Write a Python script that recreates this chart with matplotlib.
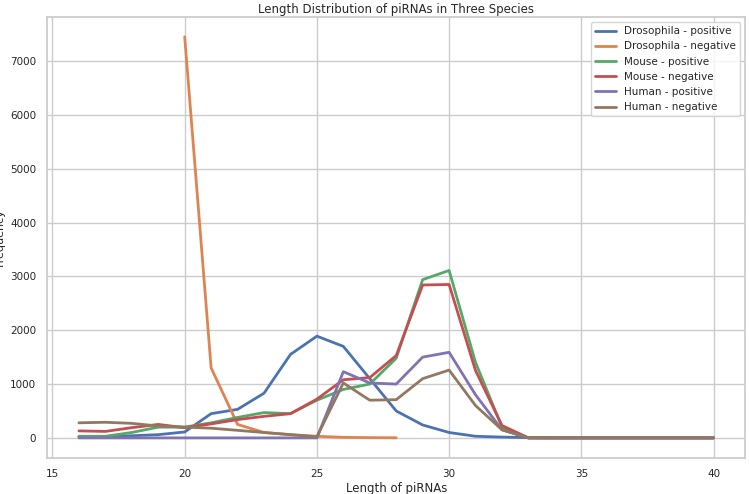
import matplotlib
matplotlib.use("Agg")
import matplotlib.pyplot as plt
import seaborn as sns

sns.set_theme(style="whitegrid")

lengths = list(range(16, 41))
tail = [0] * 7  # 34..40
dro_pos = [20, 20, 40, 60, 110, 450, 530, 830, 1550, 1890, 1700, 1100, 500, 240, 100, 30, 15, 5] + tail
dro_neg_x = list(range(20, 29))
dro_neg = [7450, 1300, 250, 100, 60, 30, 10, 5, 2]
mouse_pos = [30, 30, 100, 200, 200, 280, 380, 470, 450, 700, 900, 1000, 1480, 2940, 3110, 1400, 200, 0] + tail
mouse_neg = [130, 120, 190, 250, 190, 260, 340, 400, 450, 720, 1080, 1120, 1530, 2840, 2850, 1250, 230, 0] + tail
human_pos = [0, 0, 0, 0, 0, 0, 0, 0, 0, 0, 1230, 1020, 1000, 1500, 1590, 800, 150, 0] + tail
human_neg = [280, 290, 270, 220, 200, 180, 140, 100, 60, 20, 1020, 700, 710, 1100, 1260, 600, 150, 0] + tail

fig, ax = plt.subplots(figsize=(7.49, 4.94), dpi=100)
ax.plot(lengths, dro_pos, lw=2, label="Drosophila - positive")
ax.plot(dro_neg_x, dro_neg, lw=2, label="Drosophila - negative")
ax.plot(lengths, mouse_pos, lw=2, label="Mouse - positive")
ax.plot(lengths, mouse_neg, lw=2, label="Mouse - negative")
ax.plot(lengths, human_pos, lw=2, label="Human - positive")
ax.plot(lengths, human_neg, lw=2, label="Human - negative")
ax.set_title("Length Distribution of piRNAs in Three Species", fontsize=8.5, pad=3)
ax.set_xlabel("Length of piRNAs", fontsize=8.5, labelpad=2)
ax.set_ylabel("Frequency", fontsize=8, labelpad=4)
ax.tick_params(labelsize=7.5, pad=2)
ax.legend(loc="upper right", fontsize=7.5)
fig.subplots_adjust(left=0.063, right=0.995, top=0.966, bottom=0.073)
fig.savefig("out.png", dpi=100)
